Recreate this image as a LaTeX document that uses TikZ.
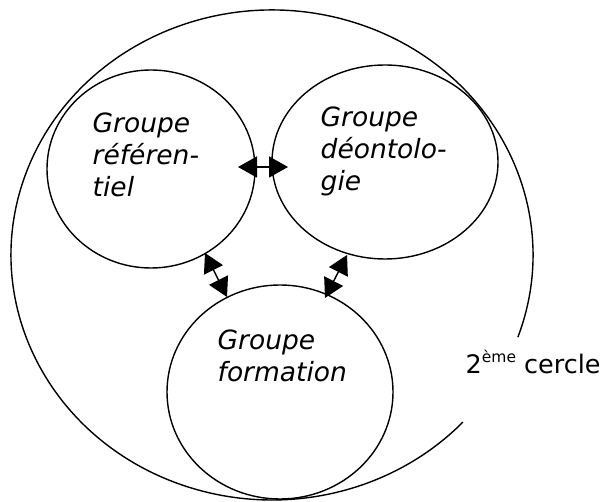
\documentclass[tikz,border=0pt]{standalone}
\usepackage{fontspec}
\setmainfont{DejaVu Sans}
\usetikzlibrary{shapes.geometric,arrows.meta}
\newcommand{\mylines}[1]{\vtop{\fontsize{26.5}{32}\selectfont\itshape #1}}
\begin{document}
\begin{tikzpicture}[x=1pt,y=1pt,line width=1.4pt,
  group/.style={draw,ellipse,inner sep=0pt},
  lbl/.style={anchor=base west,inner sep=0pt},
  link/.style={{Triangle[length=19pt,width=21pt]}-{Triangle[length=19pt,width=21pt]},line width=1.4pt}]
\useasboundingbox (0,0) rectangle (612,502);
% outer circle with gap
\coordinate (oc) at (272,247);
\draw (oc) ++(-19.6:261 and 245) arc[start angle=-19.6,end angle=317,x radius=261,y radius=245];
% groups
\node[group,minimum width=208pt,minimum height=198pt] (ref) at (151,333) {};
\node[group,minimum width=226pt,minimum height=194pt] (deo) at (385,340) {};
\node[group,minimum width=226pt,minimum height=214pt] (form) at (280,110) {};
% labels
\node[lbl] (tref) at (92,369) {\mylines{\hbox{Groupe}\hbox{référen-}\hbox{tiel}}};
\node[lbl] (tdeo) at (320,375) {\mylines{\hbox{Groupe}\hbox{déontolo-}\hbox{gie}}};
\node[lbl] (tform) at (217,152) {\mylines{\hbox{Groupe}\hbox{formation}}};
\node[lbl] (cercle) at (465,128) {\fontsize{25.5}{30}\selectfont 2\raisebox{11pt}{\fontsize{15.5}{18}\selectfont ème} cercle};
% arrows
\coordinate (a1) at (238,335);
\coordinate (b1) at (288,335);
\coordinate (a2) at (205,249);
\coordinate (b2) at (227,205);
\coordinate (a3) at (347,247);
\coordinate (b3) at (325,204);
\draw[link] (a1) -- (b1);
\draw[link] (a2) -- (b2);
\draw[link] (a3) -- (b3);
\end{tikzpicture}
\end{document}
